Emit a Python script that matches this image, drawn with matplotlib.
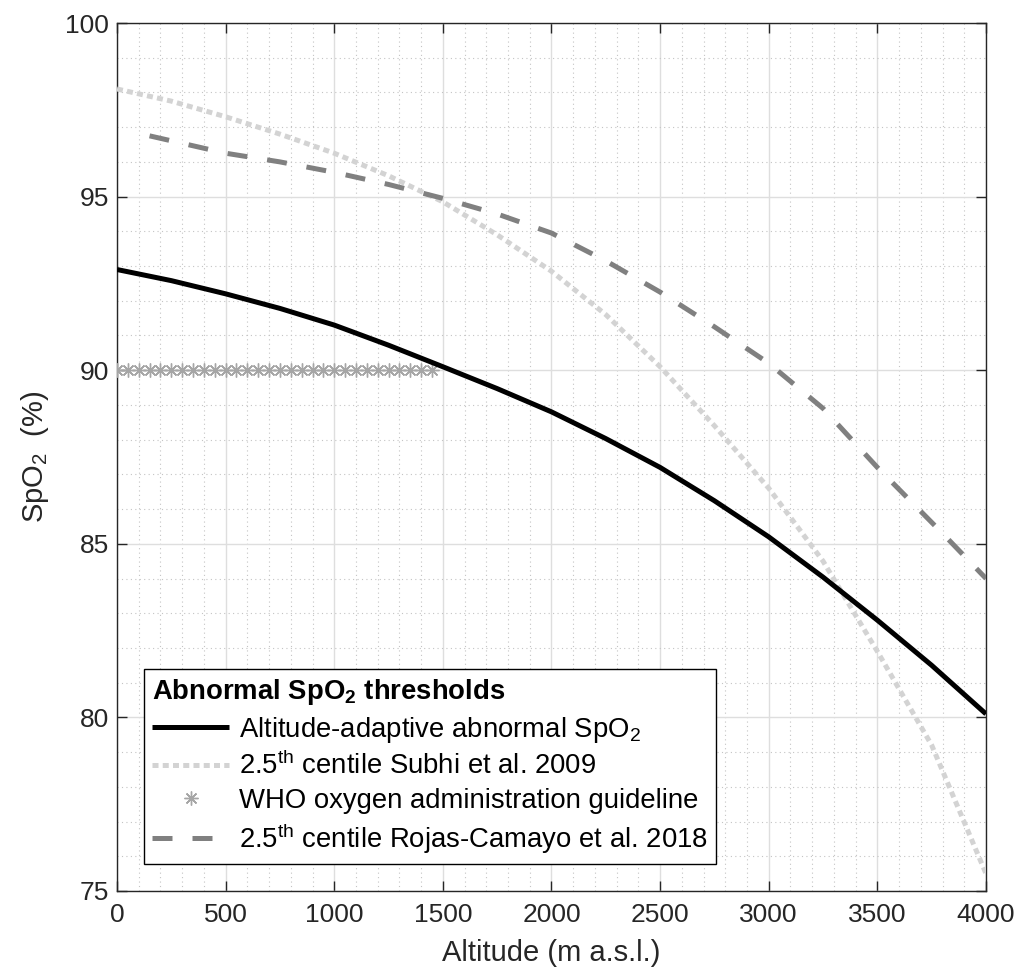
import matplotlib.pyplot as plt
import numpy as np

plt.rcParams['font.family'] = ['Liberation Sans', 'DejaVu Sans']
plt.rcParams['mathtext.fontset'] = 'custom'
plt.rcParams['mathtext.rm'] = 'Liberation Sans'
plt.rcParams['mathtext.it'] = 'Liberation Sans:italic'
plt.rcParams['mathtext.bf'] = 'Liberation Sans:bold'

# altitude-adaptive abnormal SpO2 threshold
adapt_alt = [0, 250, 500, 750, 1000, 1250, 1500, 1750, 2000, 2250, 2500,
             2750, 3000, 3250, 3500, 3750, 4000]
adapt_spo2 = [92.9, 92.58, 92.2, 91.78, 91.3, 90.72, 90.1, 89.47, 88.8, 88.03, 87.2,
              86.24, 85.2, 84.04, 82.8, 81.5, 80.1]

# 2.5th centile, Subhi et al. 2009
subhi_alt = [0, 250, 500, 750, 1000, 1250, 1500, 1750, 2000, 2250, 2500,
             2750, 3000, 3250, 3500, 3750, 4000]
subhi_spo2 = [98.1, 97.75, 97.3, 96.8, 96.25, 95.6, 94.85, 93.9, 92.85, 91.6, 90.1,
              88.4, 86.6, 84.5, 81.9, 79.2, 75.5]

# WHO oxygen administration guideline (SpO2 < 90 %)
who_alt = np.arange(0, 1500, 50)
who_spo2 = np.full(len(who_alt), 90.0)

# 2.5th centile, Rojas-Camayo et al. 2018
rojas_alt = [150, 500, 750, 1000, 1250, 1500, 1750, 2000, 2250, 2500, 2750,
             3000, 3250, 3500, 3800, 4000]
rojas_spo2 = [96.75, 96.25, 96.0, 95.7, 95.35, 94.95, 94.5, 93.95, 93.15, 92.25, 91.25,
              90.2, 88.9, 87.2, 85.3, 84.0]

axcol = '#262626'

fig = plt.figure(figsize=(10.19, 9.71), dpi=100)
ax = fig.add_axes([0.1148, 0.0824, 0.8528, 0.8939])

ax.plot(adapt_alt, adapt_spo2, color='black', lw=3.6, solid_capstyle='butt',
        solid_joinstyle='round', label='Altitude-adaptive abnormal SpO$_2$', zorder=4)
ax.plot(subhi_alt, subhi_spo2, color='#d3d3d3', lw=3.6, dashes=(1.2, 0.85),
        label='2.5$^{\\mathrm{th}}$ centile Subhi et al. 2009', zorder=3)
ax.plot(who_alt, who_spo2, ls='none', marker=(8, 2, 0), ms=10, mew=1.0,
        color='#a6a6a6', label='WHO oxygen administration guideline', zorder=3)
ax.plot(rojas_alt, rojas_spo2, color='#808080', lw=3.6, dashes=(4, 4),
        label='2.5$^{\\mathrm{th}}$ centile Rojas-Camayo et al. 2018', zorder=3)

ax.set_xlim(0, 4000)
ax.set_ylim(75, 100)
ax.set_xticks(np.arange(0, 4001, 500))
ax.set_yticks(np.arange(75, 101, 5))
ax.set_xticks(np.arange(0, 4001, 100), minor=True)
ax.set_yticks(np.arange(75, 101, 1), minor=True)

ax.grid(True, which='major', color='#dedede', lw=1.0, ls='-')
ax.grid(True, which='minor', color='#c4c4c4', lw=0.8, ls=(0, (1, 3)))
ax.set_axisbelow(True)

ax.tick_params(which='major', direction='in', length=7, width=1.0, color=axcol,
               labelcolor=axcol, labelsize=19, top=True, right=True)
ax.tick_params(axis='x', which='major', pad=9)
ax.tick_params(axis='y', which='major', pad=6)
ax.tick_params(which='minor', length=0, top=True, right=True)
for s in ax.spines.values():
    s.set_color(axcol)
    s.set_linewidth(1.0)

ax.set_xlabel('Altitude (m a.s.l.)', fontsize=21, color=axcol, labelpad=8)
ax.set_ylabel('SpO$_2$  (%)', fontsize=21, color=axcol, labelpad=10)

leg = ax.legend(loc='lower left', bbox_to_anchor=(0.031, 0.031), fontsize=19.8,
                title='Abnormal SpO$_\\mathbf{2}$ thresholds',
                title_fontproperties={'weight': 'bold', 'size': 19.8},
                alignment='left', fancybox=False, framealpha=1,
                edgecolor='black', handlelength=2.8, handletextpad=0.35,
                labelspacing=0.27, borderpad=0.3, borderaxespad=0)
leg.get_frame().set_linewidth(1.0)

fig.savefig('out.png', dpi=100)
